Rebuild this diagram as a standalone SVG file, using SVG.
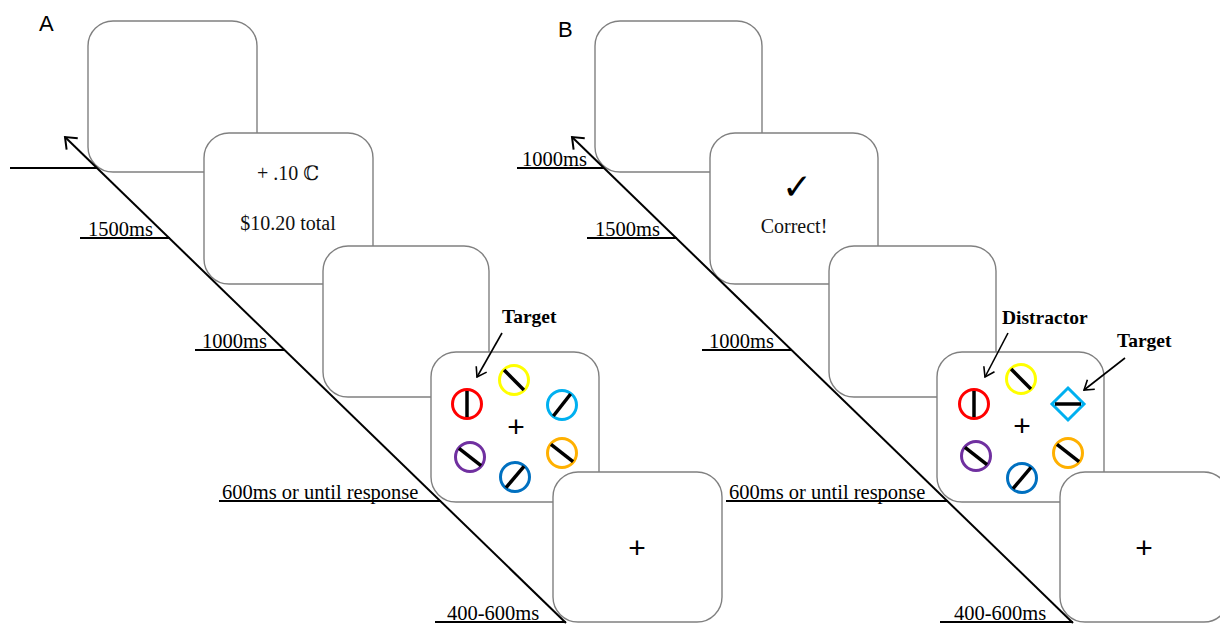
<svg xmlns="http://www.w3.org/2000/svg" width="1220" height="625" viewBox="0 0 1220 625">
<defs>
<style>
.frame{fill:#fff;stroke:#808080;stroke-width:1.4}
.tick{stroke:#000;stroke-width:2;fill:none}
.tl{font-family:"Liberation Serif","Times New Roman",serif;font-size:20.5px;fill:#000}
.ft{font-family:"Liberation Serif","Times New Roman","DejaVu Serif",serif;font-size:20px;fill:#111;text-anchor:middle}
.lbl{font-family:"Liberation Serif","Times New Roman",serif;font-size:19.5px;font-weight:bold;fill:#000}
.panel{font-family:"Liberation Sans",Arial,sans-serif;font-size:22px;fill:#000}
.ring{fill:none;stroke-width:3}
.bar{stroke:#000;stroke-width:3.5;stroke-linecap:butt}
.plus{font-family:"Liberation Sans",Arial,sans-serif;font-size:30px;fill:#000;text-anchor:middle}
.timeline{stroke:#000;stroke-width:2;fill:none}
.pointer{stroke:#000;stroke-width:1.6;fill:none}
</style>
<marker id="bigArrow" viewBox="-12 -10 14 20" refX="0" refY="0" markerWidth="14" markerHeight="20" markerUnits="userSpaceOnUse" orient="auto">
<path d="M-10,-8 L0,0 L-10,8" fill="none" stroke="#000" stroke-width="2"/>
</marker>
<marker id="smallArrow" viewBox="-11 -8 12 16" refX="0" refY="0" markerWidth="12" markerHeight="16" markerUnits="userSpaceOnUse" orient="auto">
<path d="M-9,-6 L0,0 L-9,6" fill="none" stroke="#000" stroke-width="1.6"/>
</marker>
</defs>
<rect width="1220" height="625" fill="#fff"/>

<text class="panel" x="39" y="31">A</text>
<text class="panel" x="558" y="37">B</text>

<!-- Panel A nodes -->
<g id="A-frame1"><rect class="frame" x="88" y="21" width="169" height="151" rx="25"/></g>
<g id="A-frame2"><rect class="frame" x="204" y="133" width="169" height="151" rx="25"/>
<text class="ft" x="288" y="180">+ .10 ℂ</text>
<text class="ft" x="288" y="230">$10.20 total</text></g>
<g id="A-frame3"><rect class="frame" x="323" y="246" width="166" height="151" rx="25"/></g>
<g id="A-frame4"><rect class="frame" x="431" y="352" width="168" height="150" rx="25"/>
<g transform="translate(467,404)"><circle class="ring" r="14.5" stroke="#FF0000"/><line class="bar" x1="0" y1="-13" x2="0" y2="13"/></g>
<g transform="translate(514,380)"><circle class="ring" r="14.5" stroke="#FFFF00"/><line class="bar" x1="0" y1="-14" x2="0" y2="14" transform="rotate(-45)"/></g>
<g transform="translate(562,405)"><circle class="ring" r="14.5" stroke="#00B0F0"/><line class="bar" x1="0" y1="-14" x2="0" y2="14" transform="rotate(38)"/></g>
<g transform="translate(470,457)"><circle class="ring" r="14.5" stroke="#7030A0"/><line class="bar" x1="0" y1="-14" x2="0" y2="14" transform="rotate(-52)"/></g>
<g transform="translate(562,453)"><circle class="ring" r="14.5" stroke="#FFB000"/><line class="bar" x1="0" y1="-14" x2="0" y2="14" transform="rotate(-52)"/></g>
<g transform="translate(515,477)"><circle class="ring" r="14.5" stroke="#0070C0"/><line class="bar" x1="0" y1="-14" x2="0" y2="14" transform="rotate(40)"/></g>
<text class="plus" x="516" y="437">+</text>
<text class="lbl" x="502" y="323">Target</text></g>
<g id="A-frame5"><rect class="frame" x="553" y="472" width="169" height="150" rx="25"/>
<text class="plus" x="637" y="558">+</text></g>

<!-- Panel B nodes -->
<g id="B-frame1"><rect class="frame" x="595" y="21" width="167" height="151" rx="25"/></g>
<g id="B-frame2"><rect class="frame" x="710" y="133" width="168" height="151" rx="25"/>
<text x="797" y="199" style="font-family:'DejaVu Sans',sans-serif;font-size:36px;font-weight:bold;fill:#000;text-anchor:middle">✓</text>
<text class="ft" x="794" y="233">Correct!</text></g>
<g id="B-frame3"><rect class="frame" x="829" y="246" width="167" height="151" rx="25"/></g>
<g id="B-frame4"><rect class="frame" x="937" y="352" width="167" height="150" rx="25"/>
<g transform="translate(974,404)"><circle class="ring" r="14.5" stroke="#FF0000"/><line class="bar" x1="0" y1="-13" x2="0" y2="13"/></g>
<g transform="translate(1021,379)"><circle class="ring" r="14.5" stroke="#FFFF00"/><line class="bar" x1="0" y1="-14" x2="0" y2="14" transform="rotate(-45)"/></g>
<g transform="translate(1068,404)"><polygon points="0,-16 16,0 0,16 -16,0" fill="none" stroke="#00B0F0" stroke-width="3"/><line class="bar" x1="-13" y1="0" x2="13" y2="0"/></g>
<g transform="translate(976,456)"><circle class="ring" r="14.5" stroke="#7030A0"/><line class="bar" x1="0" y1="-14" x2="0" y2="14" transform="rotate(-52)"/></g>
<g transform="translate(1068,453)"><circle class="ring" r="14.5" stroke="#FFB000"/><line class="bar" x1="0" y1="-14" x2="0" y2="14" transform="rotate(-52)"/></g>
<g transform="translate(1022,478)"><circle class="ring" r="14.5" stroke="#0070C0"/><line class="bar" x1="0" y1="-14" x2="0" y2="14" transform="rotate(40)"/></g>
<text class="plus" x="1022" y="436">+</text>
<text class="lbl" x="1002" y="324">Distractor</text>
<text class="lbl" x="1117" y="347">Target</text></g>
<g id="B-frame5"><rect class="frame" x="1060" y="472" width="169" height="150" rx="25"/>
<text class="plus" x="1144" y="558">+</text></g>

<!-- Timeline labels -->
<g id="A-labels">
<text class="tl" x="88" y="236">1500ms</text>
<text class="tl" x="202" y="348">1000ms</text>
<text class="tl" x="222" y="499">600ms or until response</text>
<text class="tl" x="447" y="620">400-600ms</text>
</g>
<g id="B-labels">
<text class="tl" x="522" y="166">1000ms</text>
<text class="tl" x="595" y="236">1500ms</text>
<text class="tl" x="709" y="348">1000ms</text>
<text class="tl" x="729" y="499">600ms or until response</text>
<text class="tl" x="954" y="620">400-600ms</text>
</g>

<!-- Connectors -->
<g id="connectors">
<line class="tick" x1="10" y1="168" x2="97" y2="168"/>
<line class="tick" x1="80" y1="238" x2="170" y2="238"/>
<line class="tick" x1="195" y1="350" x2="285" y2="350"/>
<line class="tick" x1="219" y1="501" x2="441" y2="501"/>
<line class="tick" x1="435" y1="622" x2="566" y2="622"/>
<line class="timeline" x1="566" y1="623" x2="65" y2="137" marker-end="url(#bigArrow)"/>
<line class="pointer" x1="502" y1="333" x2="477" y2="377" marker-end="url(#smallArrow)"/>

<line class="tick" x1="517" y1="168" x2="604" y2="168"/>
<line class="tick" x1="587" y1="238" x2="677" y2="238"/>
<line class="tick" x1="702" y1="350" x2="792" y2="350"/>
<line class="tick" x1="726" y1="501" x2="948" y2="501"/>
<line class="tick" x1="940" y1="622" x2="1073" y2="622"/>
<line class="timeline" x1="1073" y1="623" x2="572" y2="137" marker-end="url(#bigArrow)"/>
<line class="pointer" x1="1008" y1="333" x2="985" y2="377" marker-end="url(#smallArrow)"/>
<line class="pointer" x1="1125" y1="358" x2="1084" y2="390" marker-end="url(#smallArrow)"/>
</g>
</svg>
